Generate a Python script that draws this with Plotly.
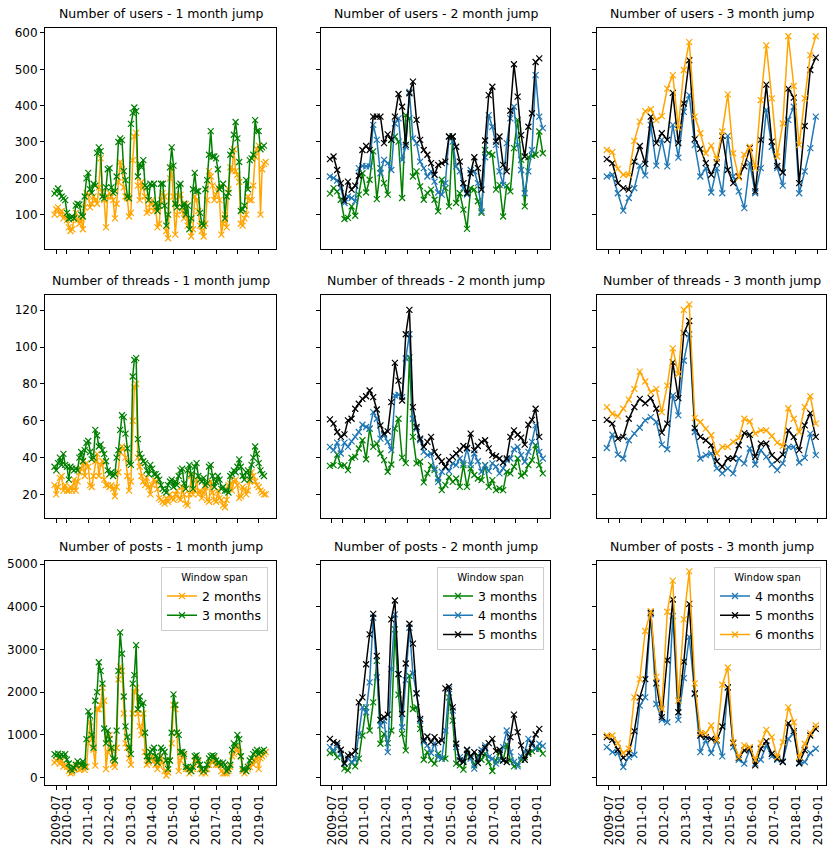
import pandas as pd
import plotly.graph_objects as go

# ---- data: number of users ----
users_1m_2 = [100, 115, 120, 100, 110, 90, 100, 85, 65, 55, 60, 90, 105, 85, 75, 90, 60,
              120, 160, 155, 120, 130, 150, 140, 130, 175, 255, 160, 140, 65, 150, 160, 150,
              140, 90, 130, 190, 245, 225, 175, 150, 145, 95, 105, 250, 315, 325, 180, 140,
              190, 175, 150, 105, 110, 130, 140, 110, 120, 65, 75, 140, 160, 150, 55, 35,
              200, 230, 150, 45, 100, 150, 155, 110, 90, 130, 70, 85, 40, 60, 150, 140,
              110, 70, 55, 40, 75, 140, 220, 205, 180, 140, 155, 175, 140, 45, 75, 100,
              65, 170, 230, 220, 280, 220, 210, 190, 75, 70, 90, 100, 150, 140, 140, 180,
              260, 280, 290, 100, 225, 240, 245]
users_1m_3 = [158, 165, 172, 160, 150, 145, 140, 105, 88, 92, 95, 90, 125, 130, 128, 100, 95, 150, 200, 215,
              170, 160, 185, 180, 270, 285, 275, 150, 145, 175, 225, 228, 175, 160, 165, 205, 300, 310, 305, 220,
              195, 150, 145, 350, 380, 395, 385, 205, 240, 230, 250, 180, 175, 140, 185, 180, 185, 130, 110, 125,
              185, 185, 125, 70, 100, 230, 285, 235, 130, 120, 180, 185, 120, 130, 100, 125, 60, 90, 170, 215,
              165, 165, 105, 75, 70, 170, 195, 265, 330, 260, 260, 255, 225, 170, 175, 185, 90, 150, 160, 265,
              275, 320, 355, 310, 245, 110, 115, 125, 195, 170, 250, 255, 265, 360, 330, 330, 280, 285, 290]
users_2m_3 = [158, 173, 164, 141, 88, 91, 123, 97, 155, 214, 161, 196, 274, 143, 228, 187, 155, 306, 315, 301,
              146, 374, 365, 205, 219, 178, 141, 160, 169, 141, 109, 196, 173, 123, 315, 132, 159, 114, 61, 173,
              169, 137, 105, 278, 269, 265, 169, 182, 95, 180, 164, 283, 361, 251, 123, 258, 262, 265, 329, 269]
users_2m_4 = [205, 201, 194, 173, 132, 150, 146, 137, 228, 234, 233, 233, 347, 306, 214, 251, 242, 223, 351, 365,
              251, 287, 438, 310, 297, 246, 228, 205, 219, 191, 161, 155, 187, 315, 301, 233, 219, 173, 155, 223,
              219, 187, 109, 258, 374, 342, 292, 219, 182, 297, 365, 397, 292, 223, 159, 219, 278, 484, 370, 338]
users_2m_5 = [253, 260, 223, 187, 138, 191, 169, 180, 207, 278, 289, 278, 370, 370, 370, 297, 321, 306, 370, 432,
              397, 292, 434, 466, 361, 306, 278, 265, 242, 210, 237, 242, 246, 315, 315, 287, 246, 187, 159, 214,
              258, 228, 169, 304, 429, 452, 301, 315, 237, 219, 386, 514, 425, 319, 260, 342, 379, 520, 530]
users_3m_4 = [205, 210, 159, 111, 146, 173, 235, 208, 347, 235, 306, 233, 347, 257, 383, 429, 292, 205, 228, 161,
              228, 159, 317, 205, 164, 118, 242, 159, 228, 388, 287, 228, 180, 361, 397, 159, 219, 283, 370]
users_3m_5 = [253, 242, 187, 173, 169, 246, 289, 240, 370, 297, 324, 306, 435, 297, 406, 525, 308, 281, 242, 210,
              244, 317, 223, 187, 205, 233, 283, 164, 306, 458, 301, 234, 216, 447, 422, 187, 344, 498, 532]
users_3m_6 = [278, 272, 226, 210, 210, 303, 356, 385, 390, 360, 371, 447, 484, 340, 498, 575, 370, 324, 269, 290,
              253, 329, 431, 269, 202, 265, 287, 228, 415, 566, 420, 260, 351, 591, 454, 292, 420, 539, 591]

# ---- data: number of threads ----
threads_1m_2 = [25, 20, 24, 29, 30, 22, 25, 22, 22, 24, 22, 28, 22, 27, 32, 34, 38, 30, 37, 35,
                25, 24, 30, 38, 42, 30, 36, 38, 28, 25, 25, 24, 25, 23, 19, 24, 32, 43, 46, 45,
                40, 30, 22, 27, 60, 78, 80, 40, 35, 30, 27, 25, 29, 24, 20, 25, 28, 27, 23, 18,
                17, 16, 15, 18, 16, 20, 18, 17, 20, 22, 18, 17, 24, 20, 15, 14, 20, 30, 20, 22,
                28, 20, 22, 18, 21, 24, 17, 16, 27, 21, 17, 16, 22, 18, 17, 14, 13, 17, 25, 26,
                22, 27, 28, 25, 18, 19, 24, 23, 20, 22, 27, 32, 30, 27, 25, 24, 22, 21, 20, 20]
threads_1m_3 = [35, 33, 37, 40, 36, 42, 36, 35, 28, 35, 34, 33, 34, 33, 40, 43, 38, 44, 48, 49,
                43, 39, 40, 55, 52, 46, 47, 44, 42, 38, 33, 31, 32, 30, 31, 40, 44, 55, 63, 62,
                53, 45, 37, 36, 84, 93, 94, 50, 42, 40, 38, 37, 33, 31, 36, 34, 31, 31, 30, 28,
                25, 23, 22, 21, 25, 27, 28, 24, 27, 25, 30, 33, 34, 26, 23, 33, 36, 31, 23, 35,
                37, 30, 28, 27, 29, 25, 26, 35, 36, 30, 24, 27, 30, 28, 23, 24, 22, 22, 21, 30,
                31, 33, 32, 35, 39, 35, 30, 28, 32, 33, 28, 36, 40, 46, 42, 37, 33, 31, 30]
threads_2m_3 = [35.5, 35.9, 41.6, 35.5, 35.9, 33.2, 39.8, 40.4, 44.9, 49.4, 39.1, 55.7, 45.8, 47.6, 42.2,
                38.6, 32.3, 36.2, 55.7, 61.1, 40.0, 37.0, 94.4, 51.2, 36.8, 37.7, 26.5, 31.4, 35.9, 33.2,
                28.6, 22.3, 25.0, 29.5, 26.8, 28.6, 24.1, 35.9, 24.1, 34.1, 30.5, 28.6, 27.7, 35.9, 24.1,
                27.7, 22.3, 23.2, 22.3, 32.3, 31.4, 35.0, 39.5, 30.1, 31.4, 35.9, 38.6, 46.7, 35.9, 31.4]
threads_2m_4 = [45.8, 44.0, 48.1, 42.2, 48.1, 45.8, 48.8, 51.2, 53.9, 57.8, 56.6, 55.7, 64.7, 61.1, 50.3,
                52.1, 48.5, 44.0, 73.7, 74.1, 72.8, 93.9, 107.0, 61.1, 55.7, 49.4, 43.1, 41.3, 42.2, 34.1,
                26.8, 32.3, 35.0, 32.6, 36.8, 35.9, 39.5, 36.8, 44.9, 35.9, 42.2, 38.0, 32.3, 35.9, 32.6,
                36.8, 35.0, 31.4, 34.1, 38.6, 39.5, 44.5, 45.8, 41.3, 37.7, 43.1, 48.5, 57.5, 43.1, 39.5]
threads_2m_5 = [60.7, 58.4, 53.9, 51.2, 52.6, 60.2, 61.1, 66.5, 69.2, 71.9, 73.3, 76.4, 72.8, 66.1, 57.5,
                53.0, 54.2, 70.1, 91.4, 81.8, 71.0, 107.0, 120.2, 67.4, 56.6, 50.3, 45.8, 48.5, 51.2, 43.1,
                40.4, 38.0, 35.0, 38.6, 40.4, 42.2, 44.0, 46.3, 45.2, 53.0, 44.0, 46.3, 48.5, 49.4, 45.0,
                41.3, 40.7, 39.5, 37.3, 39.5, 51.2, 54.8, 52.4, 50.8, 47.0, 57.8, 60.5, 66.5, 51.2]
threads_3m_4 = [45.2, 52.4, 41.6, 39.5, 49.4, 53.0, 56.2, 60.2, 62.0, 59.3, 47.0, 44.5, 73.7, 62.9, 92.6,
                107.0, 53.9, 39.5, 41.3, 42.2, 34.1, 31.4, 34.1, 31.4, 39.5, 36.8, 44.9, 36.2, 44.0, 40.4,
                36.2, 33.2, 36.8, 45.8, 45.8, 37.3, 39.8, 53.0, 41.3]
threads_3m_5 = [60.5, 58.4, 50.3, 51.2, 61.1, 67.4, 71.9, 69.5, 72.3, 66.5, 53.5, 58.4, 91.7, 72.3, 107.6,
                114.2, 56.0, 51.2, 49.4, 46.7, 38.0, 35.0, 39.5, 39.5, 46.7, 53.3, 52.4, 40.4, 47.6, 47.6,
                41.3, 38.6, 41.6, 54.8, 51.2, 44.0, 57.5, 64.1, 51.2]
threads_3m_6 = [67.4, 63.8, 62.5, 66.5, 71.5, 77.3, 86.7, 81.3, 75.5, 77.3, 64.7, 79.1, 99.3, 85.4, 120.2,
                123.2, 61.4, 59.3, 55.7, 52.1, 42.2, 45.8, 45.8, 48.5, 50.6, 61.1, 59.6, 53.0, 54.8, 54.8,
                51.7, 48.1, 46.3, 66.8, 61.1, 53.9, 67.4, 73.3, 58.4]

# ---- data: number of posts ----
posts_1m_2 = [350, 400, 450, 320, 400, 260, 300, 250, 150, 100, 120, 200, 250, 300, 180, 200, 270, 180, 250, 800,
              1300, 900, 650, 280, 1600, 1600, 1700, 2100, 1800, 200, 600, 1000, 650, 300, 250, 700, 2300, 2600, 2500, 1500,
              800, 700, 450, 300, 1500, 2000, 2100, 1500, 1200, 1000, 1500, 600, 300, 350, 450, 500, 400, 300, 200, 300,
              500, 350, 150, 50, 120, 400, 800, 1700, 1600, 1050, 150, 400, 550, 500, 200, 200, 100, 150, 200, 400,
              450, 350, 200, 100, 150, 100, 200, 300, 400, 350, 450, 300, 300, 300, 150, 100, 100, 100, 150, 250,
              500, 550, 650, 750, 600, 500, 150, 100, 150, 200, 250, 350, 300, 400, 500, 200, 450, 500, 550, 600]
posts_1m_3 = [550, 520, 560, 480, 540, 500, 550, 420, 330, 200, 170, 230, 300, 380, 340, 290, 380, 250, 900, 1550,
              1450, 1000, 700, 1800, 2000, 2700, 2500, 2200, 1150, 800, 1100, 900, 700, 450, 400, 1100, 2500, 3400, 2900, 1900,
              1200, 950, 700, 550, 2200, 2400, 3100, 1600, 1900, 1700, 1750, 1050, 500, 400, 600, 650, 700, 500, 350, 450,
              700, 650, 600, 400, 200, 400, 1050, 1950, 1700, 1050, 1000, 600, 600, 550, 250, 250, 200, 150, 250, 500,
              520, 400, 300, 200, 150, 200, 300, 450, 500, 520, 500, 400, 350, 350, 300, 350, 300, 150, 200, 300,
              650, 800, 750, 1000, 900, 500, 200, 200, 150, 250, 400, 450, 550, 600, 650, 550, 600, 620, 650]
posts_2m_3 = [575, 598, 481, 543, 210, 171, 365, 264, 443, 986, 1646, 1102, 1762, 2733, 792, 1025, 807, 1102, 3470, 1941,
              1025, 637, 2384, 1607, 1646, 1141, 419, 598, 404, 326, 559, 443, 443, 1879, 1335, 326, 287, 186, 559, 481,
              287, 520, 419, 559, 365, 155, 404, 598, 404, 776, 404, 264, 311, 419, 481, 559, 621, 675, 675, 560]
posts_2m_4 = [714, 637, 753, 559, 342, 443, 365, 419, 1025, 1646, 1530, 2228, 3742, 2345, 1219, 1335, 598, 2539, 3820, 2422,
              1180, 2283, 3509, 2438, 1972, 1335, 831, 753, 575, 807, 481, 443, 1102, 2073, 1568, 714, 481, 404, 637, 443,
              210, 443, 652, 753, 481, 443, 326, 404, 714, 1102, 598, 365, 264, 497, 598, 908, 831, 675, 792, 740]
posts_2m_5 = [908, 831, 807, 652, 326, 520, 543, 621, 1762, 1879, 2655, 3354, 3835, 2849, 1351, 1413, 1475, 3703, 4146, 2422,
              1491, 2671, 3602, 3137, 1972, 1374, 870, 963, 831, 947, 831, 870, 2089, 2127, 1646, 792, 404, 365, 652, 500,
              598, 342, 575, 700, 807, 908, 621, 652, 404, 365, 947, 1475, 1064, 753, 419, 598, 792, 1009, 1141]
posts_3m_4 = [714, 598, 575, 248, 481, 536, 1685, 1879, 3820, 1724, 1351, 1297, 3781, 1351, 2329, 3292, 1957, 598, 870, 575,
              870, 497, 2112, 714, 419, 326, 652, 326, 419, 753, 497, 419, 380, 908, 1040, 326, 365, 575, 675]
posts_3m_5 = [947, 885, 652, 466, 575, 1087, 1879, 2306, 3859, 2205, 1413, 2748, 4169, 1530, 2717, 4068, 1972, 986, 947, 908,
              870, 1196, 2112, 807, 466, 637, 675, 287, 675, 854, 559, 443, 365, 1273, 1087, 342, 637, 986, 1141]
posts_3m_6 = [986, 986, 807, 575, 675, 1879, 2306, 3432, 3898, 2360, 1607, 3882, 4612, 1801, 3703, 4829, 2205, 1040, 1040, 1219,
              870, 2174, 2578, 831, 481, 753, 714, 419, 807, 1118, 947, 481, 831, 1646, 1297, 481, 792, 1040, 1219]

x_tickvals = ["2009-07-01"] + [f"{y}-01-01" for y in range(2010, 2020)]
x_ticktext = ["2009-07"] + [f"{y}-01" for y in range(2010, 2020)]

ORANGE = "orange"
GREEN = "green"
BLUE = "#1f77b4"
BLACK = "black"

rows = ["users", "threads", "posts"]
panels = {
    (0, 0): [("2 months", users_1m_2, ORANGE), ("3 months", users_1m_3, GREEN)],
    (0, 1): [("3 months", users_2m_3, GREEN), ("4 months", users_2m_4, BLUE), ("5 months", users_2m_5, BLACK)],
    (0, 2): [("4 months", users_3m_4, BLUE), ("5 months", users_3m_5, BLACK), ("6 months", users_3m_6, ORANGE)],
    (1, 0): [("2 months", threads_1m_2, ORANGE), ("3 months", threads_1m_3, GREEN)],
    (1, 1): [("3 months", threads_2m_3, GREEN), ("4 months", threads_2m_4, BLUE), ("5 months", threads_2m_5, BLACK)],
    (1, 2): [("4 months", threads_3m_4, BLUE), ("5 months", threads_3m_5, BLACK), ("6 months", threads_3m_6, ORANGE)],
    (2, 0): [("2 months", posts_1m_2, ORANGE), ("3 months", posts_1m_3, GREEN)],
    (2, 1): [("3 months", posts_2m_3, GREEN), ("4 months", posts_2m_4, BLUE), ("5 months", posts_2m_5, BLACK)],
    (2, 2): [("4 months", posts_3m_4, BLUE), ("5 months", posts_3m_5, BLACK), ("6 months", posts_3m_6, ORANGE)],
}

W, H = 833, 848
col_px = [(45, 276), (321, 550), (597, 826)]
row_px = [(24, 246), (292, 516), (560, 785)]
col_xrange = [["2008-12-20", "2019-10-25"], ["2009-01-01", "2019-08-01"], ["2008-12-20", "2019-05-20"]]
row_yrange = [[6, 614], [7.4, 128.5], [-180, 5063]]
row_dtick = [100, 20, 1000]
legend_names = ["legend", "legend2", "legend3"]

fig = go.Figure()
layout = dict(
    width=W, height=H,
    margin=dict(l=0, r=0, t=0, b=0),
    paper_bgcolor="white", plot_bgcolor="white",
    font=dict(family="DejaVu Sans", size=12, color="black"),
    annotations=[],
)

axis_style = dict(showline=True, mirror=True, linecolor="black", linewidth=1,
                  ticks="outside", ticklen=4, tickwidth=1, tickcolor="black",
                  showgrid=False, zeroline=False, tickfont=dict(size=12))

for r in range(3):
    for c in range(3):
        k = r * 3 + c + 1
        xn = "x" if k == 1 else f"x{k}"
        yn = "y" if k == 1 else f"y{k}"
        for name, vals, color in panels[(r, c)]:
            dates = pd.date_range("2009-06-01", periods=len(vals), freq=f"{c + 1}MS")
            fig.add_trace(go.Scatter(
                x=dates, y=vals, name=name, mode="lines+markers",
                line=dict(color=color, width=1.5),
                marker=dict(symbol="x-thin", size=6, line=dict(color=color, width=1.2)),
                xaxis=xn, yaxis=yn,
                showlegend=(r == 2), legend=legend_names[c],
            ))
        x0, x1 = col_px[c]
        y0, y1 = row_px[r]
        layout["xaxis" if k == 1 else f"xaxis{k}"] = dict(
            axis_style, domain=[x0 / W, x1 / W], anchor=yn, type="date",
            range=col_xrange[c], tickvals=x_tickvals, ticktext=x_ticktext,
            tickangle=-90, showticklabels=(r == 2))
        layout["yaxis" if k == 1 else f"yaxis{k}"] = dict(
            axis_style, domain=[1 - y1 / H, 1 - y0 / H], anchor=xn,
            range=row_yrange[r], dtick=row_dtick[r], tick0=0,
            showticklabels=(c == 0))
        layout["annotations"].append(dict(
            text=f"Number of {rows[r]} - {c + 1} month jump",
            x=(x0 + x1) / 2 / W, y=1 - y0 / H, xref="paper", yref="paper",
            xanchor="center", yanchor="bottom", yshift=5, showarrow=False,
            font=dict(size=12.5, color="black")))

legend_right = [268, 544, 821]
for c in range(3):
    layout[legend_names[c]] = dict(
        x=legend_right[c] / W, y=1 - 566 / H, xanchor="right", yanchor="top",
        bgcolor="rgba(255,255,255,0.8)", bordercolor="#cccccc", borderwidth=1,
        font=dict(size=12.5), itemwidth=30, tracegroupgap=0,
        title=dict(text="Window span", side="top center", font=dict(size=10)))

fig.update_layout(**layout)
fig.write_html("out.html", config={"displayModeBar": False},
               post_script="document.body.style.margin='0';document.body.style.overflow='hidden';")
